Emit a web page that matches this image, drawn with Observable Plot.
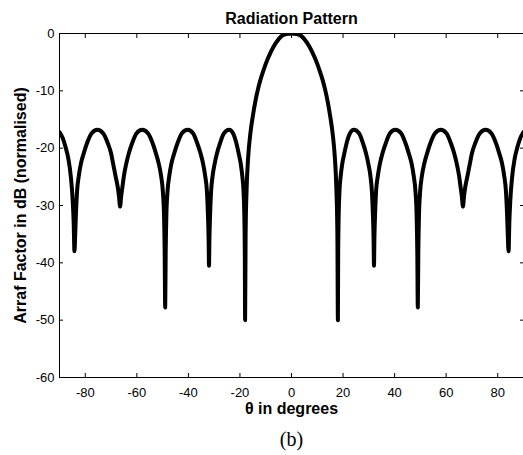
<!DOCTYPE html>
<html><head><meta charset="utf-8">
<script src="https://cdn.jsdelivr.net/npm/d3@7"></script>
<script src="https://cdn.jsdelivr.net/npm/@observablehq/plot@0.6"></script>
<style>body{margin:0;background:#fff;}</style>
</head><body><div id="chart"></div>
<script>
// Angle (degrees) and normalised array factor (dB)
const thetaDeg = [
 -90,-88.8,-87.6,-86.5,-85.6,-84.9,-84.5,-84.2,-83.9,-83.65,-83.2,-82.5,-81.7,-80.6,-79.3,-77.5,-75.3,
 -73.1,-71.3,-70.0,-69.2,-68.3,-67.4,-66.9,-66.5,-66.1,-65.6,-65.0,-64.1,-63.1,-61.8,-60.1,-57.9,
 -55.7,-53.9,-52.6,-51.5,-50.6,-49.9,-49.45,-49.2,-49,-48.8,-48.55,-48.1,-47.4,-46.6,-45.5,-44.2,-42.5,-40.3,
 -38.2,-36.6,-35.3,-34.3,-33.5,-32.8,-32.4,-32.15,-32,-31.85,-31.6,-31.2,-30.6,-29.8,-28.9,-27.7,-26.2,-24.2,
 -22.7,-21.4,-20.5,-19.7,-19.1,-18.6,-18.3,-18.1,-18,-17.8,-17.4,-16.8,-16,-15,-14,-13,-12,-11,-10,-8,-6,-4,-2,
 0,
 2,4,6,8,10,11,12,13,14,15,16,16.8,17.4,17.8,18,18.1,18.3,18.6,19.1,19.7,20.5,21.4,22.7,
 24.2,26.2,27.7,28.9,29.8,30.6,31.2,31.6,31.85,32,32.15,32.4,32.8,33.5,34.3,35.3,36.6,38.2,
 40.3,42.5,44.2,45.5,46.6,47.4,48.1,48.55,48.8,49,49.2,49.45,49.9,50.6,51.5,52.6,53.9,55.7,
 57.9,60.1,61.8,63.1,64.1,65.0,65.6,66.1,66.5,66.9,67.4,68.3,69.2,70.0,71.3,73.1,
 75.3,77.5,79.3,80.6,81.7,82.5,83.2,83.65,83.9,84.2,84.5,84.9,85.6,86.5,87.6,88.8,90
];
const afDb = [
 -17.2,-18.2,-19.9,-22,-25,-29,-33,-38,-35,-31.8,-27.6,-24.8,-22.7,-20.9,-19.1,-17.4,-16.8,
 -17.4,-19.1,-20.9,-22.7,-24.8,-26.8,-28.5,-30.2,-28.5,-26.8,-24.8,-22.7,-20.9,-19.1,-17.4,-16.8,
 -17.4,-19.1,-20.9,-22.7,-24.8,-27.6,-31.8,-38,-47.8,-38,-31.8,-27.6,-24.8,-22.7,-20.9,-19.1,-17.4,-16.8,
 -17.4,-19.1,-20.9,-22.7,-24.8,-27.6,-31.8,-36,-40.5,-36,-31.8,-27.6,-24.8,-22.7,-20.9,-19.1,-17.4,-16.8,
 -17.4,-19.1,-20.9,-22.7,-24.8,-27.6,-31.8,-38.8,-50,-35,-27,-21.5,-17.6,-14.4,-11.8,-9.7,-8.0,-6.6,-5.3,-3.2,-1.6,-0.5,-0.1,
 0,
 -0.1,-0.5,-1.6,-3.2,-5.3,-6.6,-8.0,-9.7,-11.8,-14.4,-17.6,-21.5,-27,-35,-50,-38.8,-31.8,-27.6,-24.8,-22.7,-20.9,-19.1,-17.4,
 -16.8,-17.4,-19.1,-20.9,-22.7,-24.8,-27.6,-31.8,-36,-40.5,-36,-31.8,-27.6,-24.8,-22.7,-20.9,-19.1,-17.4,
 -16.8,-17.4,-19.1,-20.9,-22.7,-24.8,-27.6,-31.8,-38,-47.8,-38,-31.8,-27.6,-24.8,-22.7,-20.9,-19.1,-17.4,
 -16.8,-17.4,-19.1,-20.9,-22.7,-24.8,-26.8,-28.5,-30.2,-28.5,-26.8,-24.8,-22.7,-20.9,-19.1,-17.4,
 -16.8,-17.4,-19.1,-20.9,-22.7,-24.8,-27.6,-31.8,-35,-38,-33,-29,-25,-22,-19.9,-18.2,-17.2
];
const xTicks = [-80, -60, -40, -20, 0, 20, 40, 60, 80];
const yTicks = [0, -10, -20, -30, -40, -50, -60];
const titleText = "Radiation Pattern";
const xLabel = "θ in degrees";
const yLabel = "Arraf Factor in dB (normalised)";
const caption = "(b)";

const data = thetaDeg.map((t, i) => ({theta: t, db: afDb[i]}));
const fmt = d => String(d);
const blank = () => "";

const chart = Plot.plot({
  width: 523,
  height: 455,
  marginTop: 33,
  marginBottom: 78,
  marginLeft: 59,
  marginRight: 0,
  style: {fontFamily: "'Liberation Sans', Arial, sans-serif", fontSize: "13px", color: "#000", background: "#fff", overflow: "visible"},
  x: {domain: [-90, 90]},
  y: {domain: [-60, 0]},
  marks: [
    Plot.line(data, {x: "theta", y: "db", stroke: "#000", strokeWidth: 4, curve: "monotone-x", clip: true}),
    Plot.frame({stroke: "#000", strokeWidth: 1}),
    Plot.axisX(xTicks, {anchor: "bottom", tickSize: -4, tickPadding: 14, tickFormat: fmt, label: null, fontSize: 13}),
    Plot.axisX(xTicks, {anchor: "top", tickSize: -4, tickFormat: blank, label: null}),
    Plot.axisY(yTicks, {anchor: "left", tickSize: -4, tickPadding: 9, tickFormat: fmt, label: null, fontSize: 13}),
    Plot.axisY(yTicks, {anchor: "right", tickSize: -4, tickFormat: blank, label: null}),
    Plot.text([titleText], {text: d => d, frameAnchor: "top", textAnchor: "middle", lineAnchor: "bottom", dy: -10, fontWeight: "bold", fontSize: 16}),
    Plot.text([xLabel], {text: d => d, frameAnchor: "bottom", textAnchor: "middle", lineAnchor: "bottom", dy: 36, fontWeight: "bold", fontSize: 16}),
    Plot.text([yLabel], {text: d => d, frameAnchor: "left", textAnchor: "middle", lineAnchor: "bottom", rotate: -90, dx: -34, fontWeight: "bold", fontSize: 16}),
    Plot.text([caption], {text: d => d, frameAnchor: "bottom", textAnchor: "middle", lineAnchor: "bottom", dy: 68, fontFamily: "'Liberation Serif', 'Times New Roman', serif", fontSize: 20})
  ]
});
document.getElementById("chart").appendChild(chart);
</script>
</body></html>
